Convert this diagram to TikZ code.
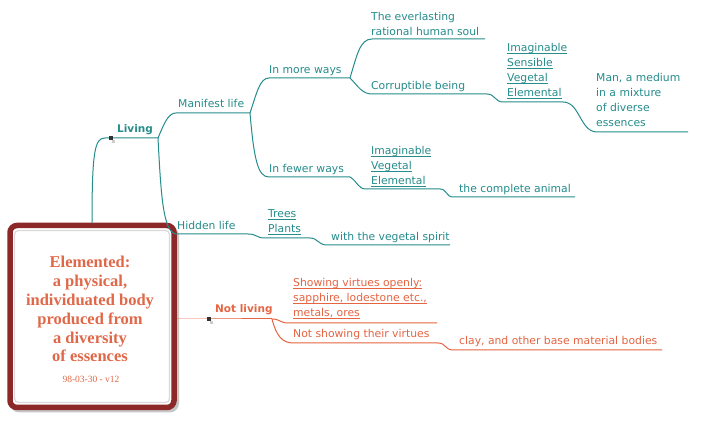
\documentclass[tikz,border=0pt]{standalone}
\usepackage{fontspec}
\setmainfont{DejaVu Sans}
\newfontfamily\boxfont{Liberation Serif}
\definecolor{teal1}{RGB}{38,140,140}
\definecolor{orng}{RGB}{230,100,65}
\definecolor{boxred}{RGB}{140,40,40}
\definecolor{boxtxt}{RGB}{224,104,72}
\newcommand\myul[1]{\setbox0=\hbox{#1}\rlap{\rule[-1.6pt]{\wd0}{0.8pt}}\box0}
\begin{document}
\begin{tikzpicture}[x=1pt,y=-1pt,
 lbl/.style={anchor=base west, inner sep=0pt, align=left, font=\fontsize{10.8}{15}\selectfont},
 tl/.style={lbl, text=teal1},
 ol/.style={lbl, text=orng},
 bl/.style={font=\bfseries\fontsize{10.5}{15}\selectfont},
 tc/.style={draw=teal1, line width=1pt},
 oc/.style={draw=orng, line width=1pt},
 dotbox/.style={fill=black!80, minimum size=4pt, inner sep=0pt, draw=none},
 dotshadow/.style={fill=gray!40, minimum size=3pt, inner sep=0pt, draw=none}]

\useasboundingbox (0,0) rectangle (705,430);
\fill[white] (0,0) rectangle (705,430);

% central box
\draw[gray!45, line width=5pt, rounded corners=7pt] (12.5,229) rectangle (176.5,410);
\node[draw=boxred, fill=white, line width=5.5pt, rounded corners=7pt, minimum width=164pt, minimum height=182pt, inner sep=0pt] (box) at (92,316.5) {};
\draw[gray!30, line width=1.2pt, rounded corners=4pt] (14.5,230.5) rectangle (169.5,402.5);
\node[anchor=base, inner sep=0pt, align=center, text=boxtxt, font=\boxfont\bfseries\fontsize{16.5}{18.8}\selectfont] (boxtext) at (90,362) {Elemented:\\a physical,\\individuated body\\produced from\\a diversity\\of essences};
\node[anchor=base, inner sep=0pt, text=boxtxt, font=\boxfont\fontsize{9.5}{11}\selectfont] (date) at (91,383) {98-03-30 - v12};

% coordinates of underlines
\coordinate (livS) at (105,138); \coordinate (livE) at (158,138);
\coordinate (mlS) at (176,113); \coordinate (mlE) at (250,113);
\coordinate (hlS) at (177,234); \coordinate (hlE) at (248,234);
\coordinate (mwS) at (269,78); \coordinate (mwE) at (350,78);
\coordinate (fwS) at (269,177); \coordinate (fwE) at (350,177);
\coordinate (tpS) at (265,238); \coordinate (tpE) at (310,238);
\coordinate (vsS) at (327,245); \coordinate (vsE) at (450,245);
\coordinate (elS) at (372,39); \coordinate (elE) at (485,39);
\coordinate (cbS) at (372,94); \coordinate (cbE) at (487,94);
\coordinate (i4S) at (503,102); \coordinate (i4E) at (563,102);
\coordinate (manS) at (597,132); \coordinate (manE) at (688,132);
\coordinate (i3S) at (366,189); \coordinate (i3E) at (440,189);
\coordinate (caS) at (453,197); \coordinate (caE) at (575,197);
\coordinate (nlS) at (209,319); \coordinate (nlE) at (272,319);
\coordinate (svS) at (288,323); \coordinate (svE) at (437,323);
\coordinate (nsS) at (293,343); \coordinate (nsE) at (438,343);
\coordinate (clS) at (453,350); \coordinate (clE) at (662,350);

% teal connectors
\draw[tc] (box.north) .. controls (92,150) and (95,138) .. (livS) -- (livE);
\draw[tc] (livE) .. controls (164,124) and (168,113) .. (mlS) -- (mlE);
\draw[tc] (livE) .. controls (161,195) and (163,234) .. (hlS) -- (hlE);
\draw[tc] (mlE) .. controls (257,92) and (260,78) .. (mwS) -- (mwE);
\draw[tc] (mlE) .. controls (254,160) and (258,177) .. (fwS) -- (fwE);
\draw[tc] (hlE) .. controls (257,234) and (256,238) .. (tpS) -- (tpE);
\draw[tc] (tpE) .. controls (318,238) and (318,245) .. (vsS) -- (vsE);
\draw[tc] (mwE) .. controls (357,55) and (360,39) .. (elS) -- (elE);
\draw[tc] (mwE) .. controls (358,86) and (362,94) .. (cbS) -- (cbE);
\draw[tc] (cbE) .. controls (495,94) and (495,102) .. (i4S) -- (i4E);
\draw[tc] (i4E) .. controls (580,102) and (580,132) .. (manS) -- (manE);
\draw[tc] (fwE) .. controls (358,182) and (358,189) .. (i3S) -- (i3E);
\draw[tc] (i3E) .. controls (447,189) and (446,197) .. (caS) -- (caE);

% orange connectors
\draw[oc] (box.east |- nlS) -- (nlS) -- (nlE);
\draw[oc] (nlE) .. controls (280,319) and (280,323) .. (svS) -- (svE);
\draw[oc] (nlE) .. controls (276,335) and (282,343) .. (nsS) -- (nsE);
\draw[oc] (nsE) .. controls (446,343) and (445,350) .. (clS) -- (clE);

% dots
\node[dotshadow] (livsh) at (113,142) {};
\node[dotbox] (livdot) at (111,138) {};
\node[dotshadow] (nlsh) at (211,323) {};
\node[dotbox] (nldot) at (209,319) {};

% teal labels
\node[tl, bl] (living) at (117,133) {Living};
\node[tl] (manifest) at (178,108) {Manifest life};
\node[tl] (hidden) at (177,230) {Hidden life};
\node[tl] (more) at (269,74) {In more ways};
\node[tl] (fewer) at (269,173) {In fewer ways};
\node[tl] (trees) at (268,233) {\myul{Trees}\\\myul{Plants}};
\node[tl] (spirit) at (331,241) {with the vegetal spirit};
\node[tl] (soul) at (371,36) {The everlasting\\rational human soul};
\node[tl] (corr) at (371,90) {Corruptible being};
\node[tl] (ims) at (507,97) {\myul{Imaginable}\\\myul{Sensible}\\\myul{Vegetal}\\\myul{Elemental}};
\node[tl] (man) at (596,127) {Man, a medium\\in a mixture\\of diverse\\essences};
\node[tl] (imf) at (371,185) {\myul{Imaginable}\\\myul{Vegetal}\\\myul{Elemental}};
\node[tl] (animal) at (459,193) {the complete animal};

% orange labels
\node[ol, bl] (notliving) at (215,313) {Not living};
\node[ol] (showing) at (293,317) {\myul{Showing virtues openly:}\\\myul{sapphire, lodestone etc.,}\\\myul{metals, ores}};
\node[ol] (notshow) at (293,338) {Not showing their virtues};
\node[ol] (clay) at (459,345) {clay, and other base material bodies};
\end{tikzpicture}
\end{document}
